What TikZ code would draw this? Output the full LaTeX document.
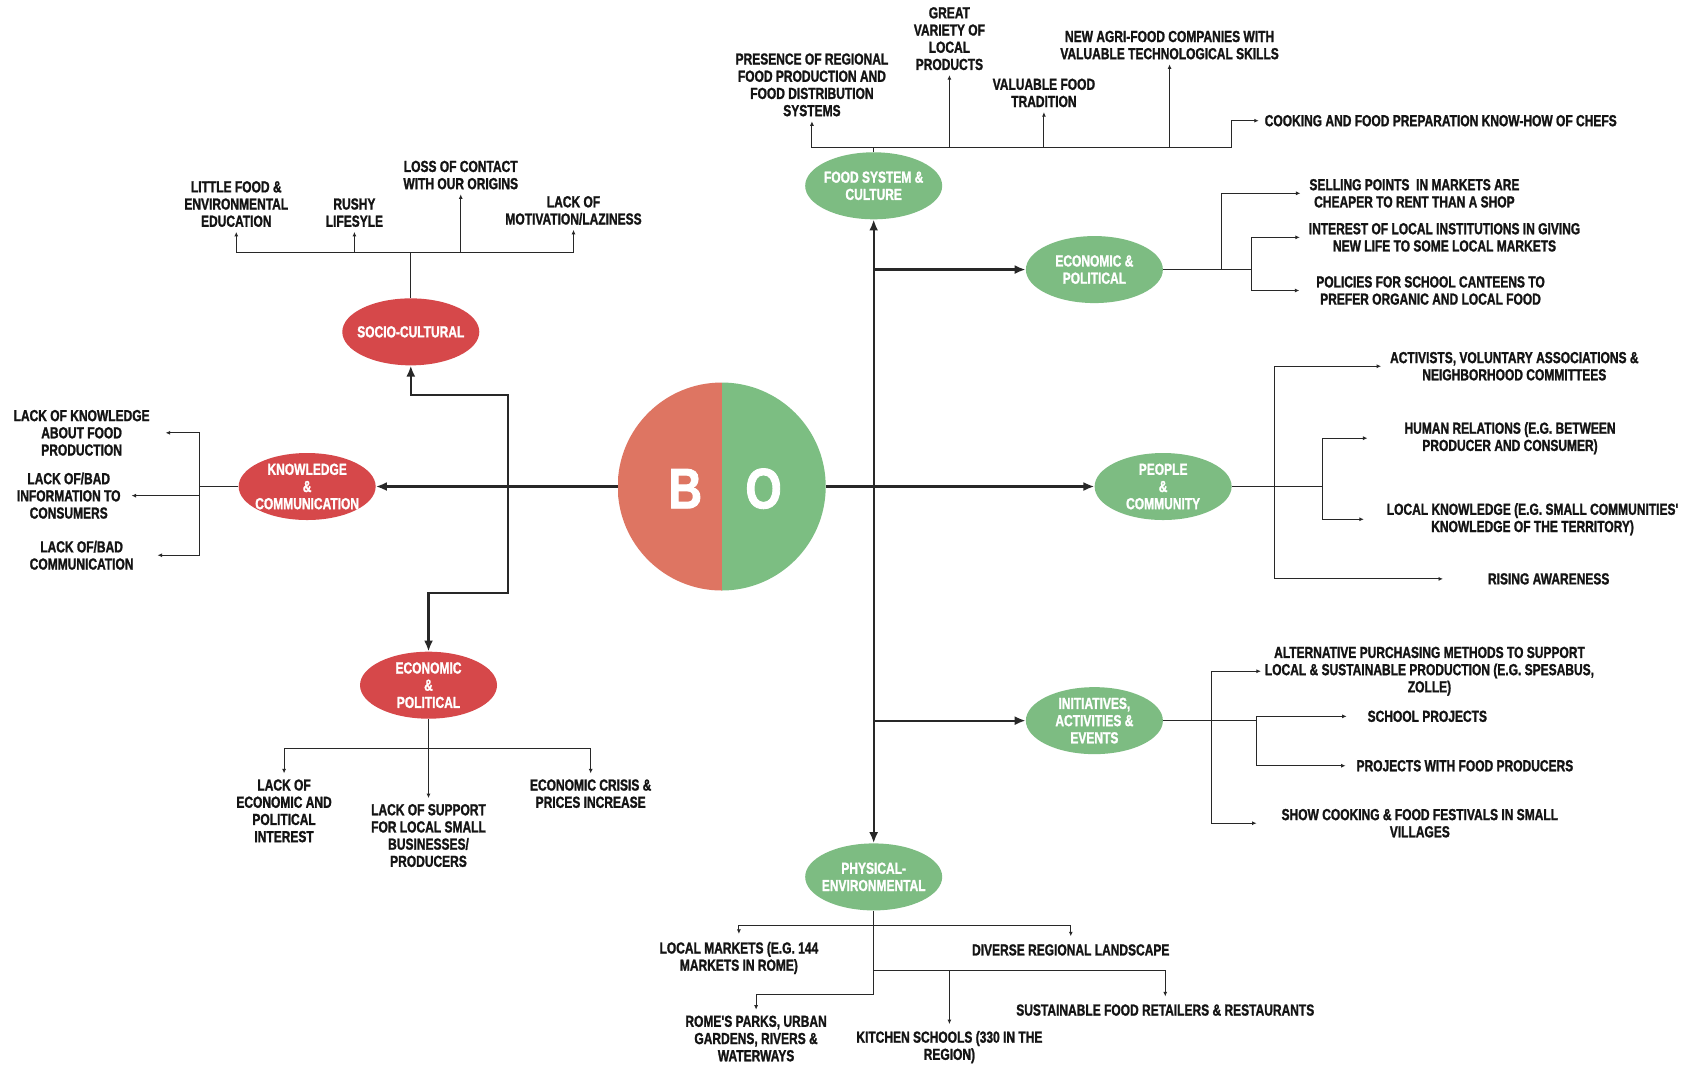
\documentclass[tikz,border=0pt]{standalone}
\usepackage{fontspec}
\usetikzlibrary{shapes.geometric,arrows.meta}
\newfontfamily\lab[FakeStretch=0.75,BoldFeatures={FakeBold=1.3}]{Liberation Sans}
\newfontfamily\bofont[FakeStretch=0.82,BoldFeatures={FakeBold=1.5}]{Liberation Sans}
\definecolor{catred}{RGB}{214,72,74}
\definecolor{catgreen}{RGB}{125,188,130}
\definecolor{bred}{RGB}{222,117,98}
\definecolor{bgreen}{RGB}{124,190,130}
\definecolor{lncol}{RGB}{40,40,40}
\definecolor{txtcol}{RGB}{20,20,20}
\begin{document}
\begin{tikzpicture}[x=1.074pt,y=-1.074pt,
  mainln/.style={draw=lncol,line width=2.2pt},
  mainarr/.style={mainln,-{Latex[length=11pt,width=9pt]}},
  subln/.style={draw=lncol,line width=1.1pt},
  subarr/.style={subln,-{Latex[length=4.5pt,width=4pt]}},
  lbl/.style={font={\lab\bfseries\fontsize{16pt}{17.2pt}\selectfont},align=center,
    text=txtcol,inner sep=1pt,outer sep=4pt},
  cattxt/.style={font={\lab\bfseries\fontsize{16pt}{17.2pt}\selectfont},align=center,
    text=white,inner sep=0pt},
  cat/.style={ellipse,minimum width=137pt,minimum height=67pt,inner sep=0pt},
  redcat/.style={cat,fill=catred},
  greencat/.style={cat,fill=catgreen},
  bigletter/.style={font={\bofont\bfseries\fontsize{57pt}{57pt}\selectfont},text=white,inner sep=0pt}]

\useasboundingbox (0,0) rectangle (1568,993);
\fill[white] (0,0) rectangle (1568,993);

% central disc: barriers (left) and opportunities (right)
\node[circle,minimum size=208pt,inner sep=0pt] (bo) at (672,453) {};
\begin{scope}
  \clip (bo.center) circle[radius=104pt];
  \fill[bred] (bo.west |- bo.north) rectangle (bo.south);
  \fill[bgreen] (bo.north) rectangle (bo.east |- bo.south);
\end{scope}
\node[bigletter] (bl) at (638,455) {B};
\node[bigletter] (ol) at (711,455) {O};

% category ellipses
\node[redcat,label={[cattxt]center:SOCIO-CULTURAL}] (sc) at (382.5,309) {};
\node[redcat,label={[cattxt]center:KNOWLEDGE\\\&\\COMMUNICATION}] (kc) at (286,453) {};
\node[redcat,label={[cattxt]center:ECONOMIC\\\&\\POLITICAL}] (ep) at (399,638) {};
\node[greencat,label={[cattxt]center:FOOD SYSTEM \&\\CULTURE}] (fs) at (813.5,173) {};
\node[greencat,label={[cattxt]center:ECONOMIC \&\\POLITICAL}] (egp) at (1019,251) {};
\node[greencat,label={[cattxt]center:PEOPLE\\\&\\COMMUNITY}] (pc) at (1083,453) {};
\node[greencat,label={[cattxt]center:INITIATIVES,\\ACTIVITIES \&\\EVENTS}] (ini) at (1019,671) {};
\node[greencat,label={[cattxt]center:PHYSICAL-\\ENVIRONMENTAL}] (pe) at (813.5,816.5) {};

% main connectors
\coordinate (jl) at (473,453);
\coordinate (jlu) at (473,368);
\coordinate (jld) at (473,552);
\coordinate (jru) at (813.5,251);
\coordinate (jrd) at (813.5,671);
\draw[mainarr] (bo) -- (kc);
\draw[mainarr] (jl) -- (jlu) -| (sc.south);
\draw[mainarr] (jl) -- (jld) -| (ep.north);
\draw[mainarr] (bo) -- (pc);
\draw[mainln,{Latex[length=11pt,width=9pt]}-{Latex[length=11pt,width=9pt]}] (fs) -- (pe);
\draw[mainarr] (jru) -- (egp);
\draw[mainarr] (jrd) -- (ini);

% socio-cultural items
\node[lbl] (sc1) at (220,190) {LITTLE FOOD \&\\ENVIRONMENTAL\\EDUCATION};
\node[lbl] (sc2) at (330,198) {RUSHY\\LIFESYLE};
\node[lbl] (sc3) at (429,163) {LOSS OF CONTACT\\WITH OUR ORIGINS};
\node[lbl] (sc4) at (534,196) {LACK OF\\MOTIVATION/LAZINESS};
\coordinate (scb) at (382.5,235);
\draw[subln] (sc.north) -- (scb);
\foreach \n in {sc1,sc2,sc3,sc4} \draw[subarr] (scb) -| (\n.south);

% knowledge & communication items
\node[lbl,outer xsep=15pt] (kc1) at (76,403) {LACK OF KNOWLEDGE\\ABOUT FOOD\\PRODUCTION};
\node[lbl,outer xsep=10pt] (kc2) at (64,461.5) {LACK OF/BAD\\INFORMATION TO\\CONSUMERS};
\node[lbl,outer xsep=23pt] (kc3) at (76,517) {LACK OF/BAD\\COMMUNICATION};
\coordinate (kcb) at (186,453);
\draw[subln] (kc.west) -- (kcb);
\foreach \n in {kc1,kc2,kc3} \draw[subarr] (kcb) |- (\n.east);

% economic & political barriers
\node[lbl,outer ysep=5pt] (ep1) at (264.5,755) {LACK OF\\ECONOMIC AND\\POLITICAL\\INTEREST};
\node[lbl,outer ysep=5pt] (ep2) at (399,778) {LACK OF SUPPORT\\FOR LOCAL SMALL\\BUSINESSES/\\PRODUCERS};
\node[lbl,outer ysep=5pt] (ep3) at (550,739) {ECONOMIC CRISIS \&\\PRICES INCREASE};
\coordinate (epb) at (399,697);
\draw[subln] (ep.south) -- (epb);
\draw[subarr] (epb) -| (ep1.north);
\draw[subarr] (epb) -- (ep2.north);
\draw[subarr] (epb) -| (ep3.north);

% food system & culture items
\node[lbl] (fs1) at (756,79) {PRESENCE OF REGIONAL\\FOOD PRODUCTION AND\\FOOD DISTRIBUTION\\SYSTEMS};
\node[lbl] (fs2) at (884,36) {GREAT\\VARIETY OF\\LOCAL\\PRODUCTS};
\node[lbl] (fs3) at (972,86.5) {VALUABLE FOOD\\TRADITION};
\node[lbl] (fs4) at (1089,42) {NEW AGRI-FOOD COMPANIES WITH\\VALUABLE TECHNOLOGICAL SKILLS};
\node[lbl,outer xsep=5pt] (fs5) at (1341.5,112.4) {COOKING AND FOOD PREPARATION KNOW-HOW OF CHEFS};
\coordinate (fsb) at (813.5,137);
\coordinate (fsk) at (1147,112.4);
\draw[subln] (fs.north) -- (fsb);
\foreach \n in {fs1,fs2,fs3,fs4} \draw[subarr] (fsb) -| (\n.south);
\draw[subarr] (fsb) -| (fsk) -- (fs5.west);

% economic & political opportunities
\node[lbl,outer xsep=8pt] (eg1) at (1317,180) {SELLING POINTS~ IN MARKETS ARE\\CHEAPER TO RENT THAN A SHOP};
\node[lbl,outer xsep=8pt] (eg2) at (1345,221) {INTEREST OF LOCAL INSTITUTIONS IN GIVING\\NEW LIFE TO SOME LOCAL MARKETS};
\node[lbl,outer xsep=16pt] (eg3) at (1332,270.5) {POLICIES FOR SCHOOL CANTEENS TO\\PREFER ORGANIC AND LOCAL FOOD};
\coordinate (egb1) at (1137,251);
\coordinate (egb2) at (1165,251);
\draw[subln] (egp.east) -- (egb2);
\draw[subarr] (egb1) |- (eg1.west);
\draw[subarr] (egb2) |- (eg2.west);
\draw[subarr] (egb2) |- (eg3.west);

% people & community items
\node[lbl,outer xsep=8pt] (pc1) at (1410,341) {ACTIVISTS, VOLUNTARY ASSOCIATIONS \&\\NEIGHBORHOOD COMMITTEES};
\node[lbl,outer xsep=36pt] (pc2) at (1406,408) {HUMAN RELATIONS (E.G. BETWEEN\\PRODUCER AND CONSUMER)};
\node[lbl,outer xsep=22pt] (pc3) at (1427,483.5) {LOCAL KNOWLEDGE (E.G. SMALL COMMUNITIES'\\KNOWLEDGE OF THE TERRITORY)};
\node[lbl,outer xsep=44pt] (pc4) at (1442,539) {RISING AWARENESS};
\coordinate (pcb1) at (1187,453);
\coordinate (pcb2) at (1231,453);
\draw[subln] (pc.east) -- (pcb2);
\draw[subarr] (pcb1) |- (pc1.west);
\draw[subarr] (pcb1) |- (pc4.west);
\draw[subarr] (pcb2) |- (pc2.west);
\draw[subarr] (pcb2) |- (pc3.west);

% initiatives, activities & events items
\node[lbl,outer xsep=3pt] (in1) at (1331,625) {ALTERNATIVE PURCHASING METHODS TO SUPPORT\\LOCAL \& SUSTAINABLE PRODUCTION (E.G. SPESABUS,\\ZOLLE)};
\node[lbl,outer xsep=20pt] (in2) at (1329,667) {SCHOOL PROJECTS};
\node[lbl,outer xsep=10pt] (in3) at (1364,713) {PROJECTS WITH FOOD PRODUCERS};
\node[lbl,outer xsep=24pt] (in4) at (1322,766.5) {SHOW COOKING \& FOOD FESTIVALS IN SMALL\\VILLAGES};
\coordinate (inb1) at (1128,671);
\coordinate (inb2) at (1170,671);
\draw[subln] (ini.east) -- (inb2);
\draw[subarr] (inb1) |- (in1.west);
\draw[subarr] (inb1) |- (in4.west);
\draw[subarr] (inb2) |- (in2.west);
\draw[subarr] (inb2) |- (in3.west);

% physical-environmental items
\node[lbl,outer ysep=7pt] (pe1) at (688,892) {LOCAL MARKETS (E.G. 144\\MARKETS IN ROME)};
\node[lbl,outer ysep=7pt] (pe2) at (997,884.5) {DIVERSE REGIONAL LANDSCAPE};
\node[lbl,outer ysep=5pt] (pe3) at (704,967) {ROME'S PARKS, URBAN\\GARDENS, RIVERS \&\\WATERWAYS};
\node[lbl,outer ysep=7pt] (pe4) at (1085,940.5) {SUSTAINABLE FOOD RETAILERS \& RESTAURANTS};
\node[lbl,outer ysep=6pt] (pe5) at (884,975) {KITCHEN SCHOOLS (330 IN THE\\REGION)};
\coordinate (peb1) at (813.5,862);
\coordinate (peb2) at (813.5,904);
\coordinate (peb3) at (813.5,926);
\draw[subln] (pe.south) -- (peb3);
\draw[subarr] (peb1) -| (pe1.north);
\draw[subarr] (peb1) -| (pe2.north);
\draw[subarr] (peb2) -| (pe5.north);
\draw[subarr] (peb2) -| (pe4.north);
\draw[subarr] (peb3) -| (pe3.north);
\end{tikzpicture}
\end{document}
